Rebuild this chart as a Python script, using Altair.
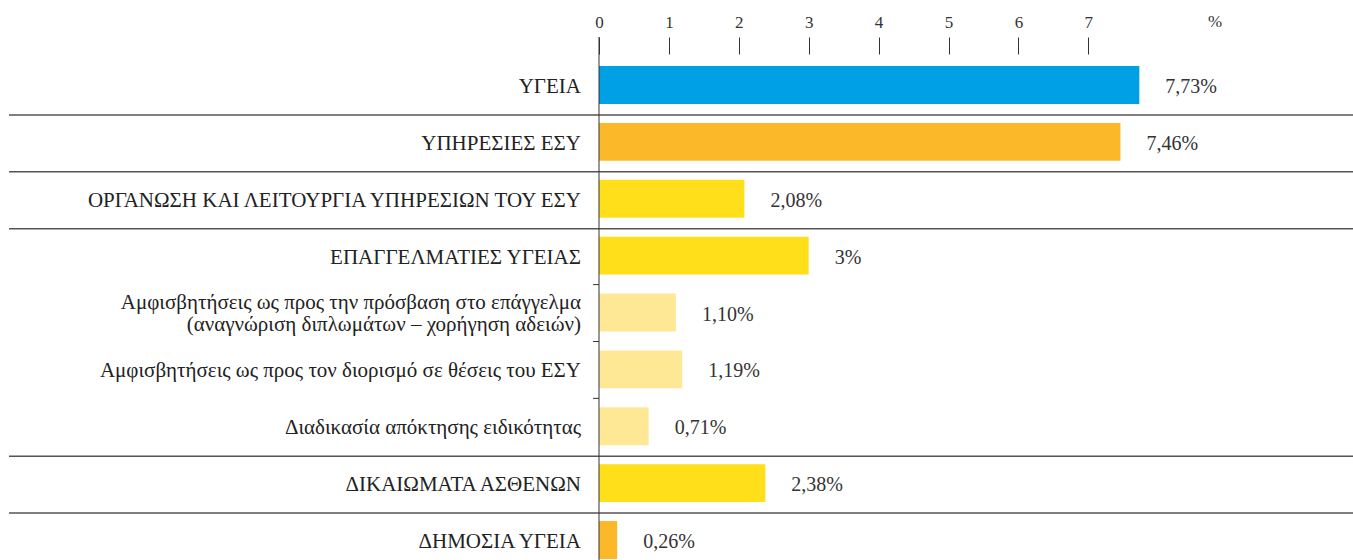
import altair as alt
import pandas as pd

categories = [
    "ΥΓΕΙΑ",
    "ΥΠΗΡΕΣΙΕΣ ΕΣΥ",
    "ΟΡΓΑΝΩΣΗ ΚΑΙ ΛΕΙΤΟΥΡΓΙΑ ΥΠΗΡΕΣΙΩΝ ΤΟΥ ΕΣΥ",
    "ΕΠΑΓΓΕΛΜΑΤΙΕΣ ΥΓΕΙΑΣ",
    "Αμφισβητήσεις ως προς την πρόσβαση στο επάγγελμα\n(αναγνώριση διπλωμάτων – χορήγηση αδειών)",
    "Αμφισβητήσεις ως προς τον διορισμό σε θέσεις του ΕΣΥ",
    "Διαδικασία απόκτησης ειδικότητας",
    "ΔΙΚΑΙΩΜΑΤΑ ΑΣΘΕΝΩΝ",
    "ΔΗΜΟΣΙΑ ΥΓΕΙΑ",
]
values = [7.73, 7.46, 2.08, 3.0, 1.10, 1.19, 0.71, 2.38, 0.26]
value_labels = ["7,73%", "7,46%", "2,08%", "3%", "1,10%", "1,19%", "0,71%", "2,38%", "0,26%"]
groups = ["blue", "orange", "yellow", "yellow", "light", "light", "light", "yellow", "orange"]

group_names = ["blue", "orange", "yellow", "light"]
group_colors = ["#00A1E4", "#FBB829", "#FFDE1A", "#FEE896"]

boundary_after = [0, 1, 2, 3, 4, 5, 6, 7]
boundary_kind = ["sep", "sep", "sep", "tick", "tick", "tick", "sep", "sep"]

tick_values = [0, 1, 2, 3, 4, 5, 6, 7]

FONT = "Liberation Serif"
W, H = 699, 506

df = pd.DataFrame({"cat": categories, "value": values, "label": value_labels, "group": groups})
df["multi"] = df["cat"].str.contains("\n")
bd = pd.DataFrame({"cat": [categories[i] for i in boundary_after], "kind": boundary_kind})

yscale = alt.Scale(domain=categories, range=[12, 505], paddingInner=0.332, paddingOuter=0)
xscale = alt.Scale(domain=[0, 10], nice=False, zero=True)

xaxis = alt.Axis(orient="top", values=tick_values, tickSize=17, domain=False, grid=False,
                 labelFont=FONT, labelFontSize=17, labelColor="#333333", tickColor="#333333",
                 tickWidth=1, labelPadding=6, title=None, labelFlush=False)

Y = alt.Y("cat:N", scale=yscale, axis=None)

bars = alt.Chart(df).mark_bar(clip=False).encode(
    y=Y,
    x=alt.X("value:Q", scale=xscale, axis=xaxis),
    color=alt.Color("group:N", scale=alt.Scale(domain=group_names, range=group_colors), legend=None),
)

cat_text = alt.Chart(df).transform_filter("!datum.multi").mark_text(
    align="right", baseline="middle", font=FONT, fontSize=21, color="#222222", dy=2).encode(
    y=Y, x=alt.value(-18), text="cat:N"
)

cat_text2 = alt.Chart(df).transform_filter("datum.multi").mark_text(
    align="right", baseline="middle", lineBreak="\n", font=FONT, fontSize=21, color="#222222",
    dy=-10, lineHeight=22).encode(
    y=Y, x=alt.value(-18), text="cat:N"
)

val_text = alt.Chart(df).mark_text(align="left", baseline="middle", font=FONT, fontSize=20,
                                   color="#333333", dx=26, dy=2).encode(
    y=Y, x=alt.X("value:Q", scale=xscale, axis=xaxis), text="label:N"
)

seps = alt.Chart(bd).transform_filter(alt.datum.kind == "sep").mark_rule(
    yOffset=11, color="#555555", strokeWidth=1.5).encode(
    y=alt.Y("cat:N", scale=yscale, axis=None, bandPosition=1),
    x=alt.value(-590), x2=alt.value(760),
)

small_ticks = alt.Chart(bd).transform_filter(alt.datum.kind == "tick").mark_rule(
    yOffset=10, color="#333333", strokeWidth=1).encode(
    y=alt.Y("cat:N", scale=yscale, axis=None, bandPosition=1),
    x=alt.value(-6), x2=alt.value(0),
)

vline = alt.Chart(pd.DataFrame({"a": [0]})).mark_rule(color="#333333", strokeWidth=1).encode(
    x=alt.value(0), y=alt.value(-17), y2=alt.value(H + 20)
)

pct = alt.Chart(pd.DataFrame({"t": ["%"]})).mark_text(
    font=FONT, fontSize=17, color="#333333", align="center", baseline="middle").encode(
    x=alt.value(616), y=alt.value(-32), text="t:N"
)

chart = alt.layer(seps, small_ticks, bars, vline, cat_text, cat_text2, val_text, pct).properties(
    width=W, height=H,
    padding={"left": 599, "top": 54, "right": 55, "bottom": 0},
    autosize=alt.AutoSizeParams(type="none"),
    background="white",
).configure_view(stroke=None)

chart.save("out.html", embed_options={"renderer": "svg", "actions": False})
